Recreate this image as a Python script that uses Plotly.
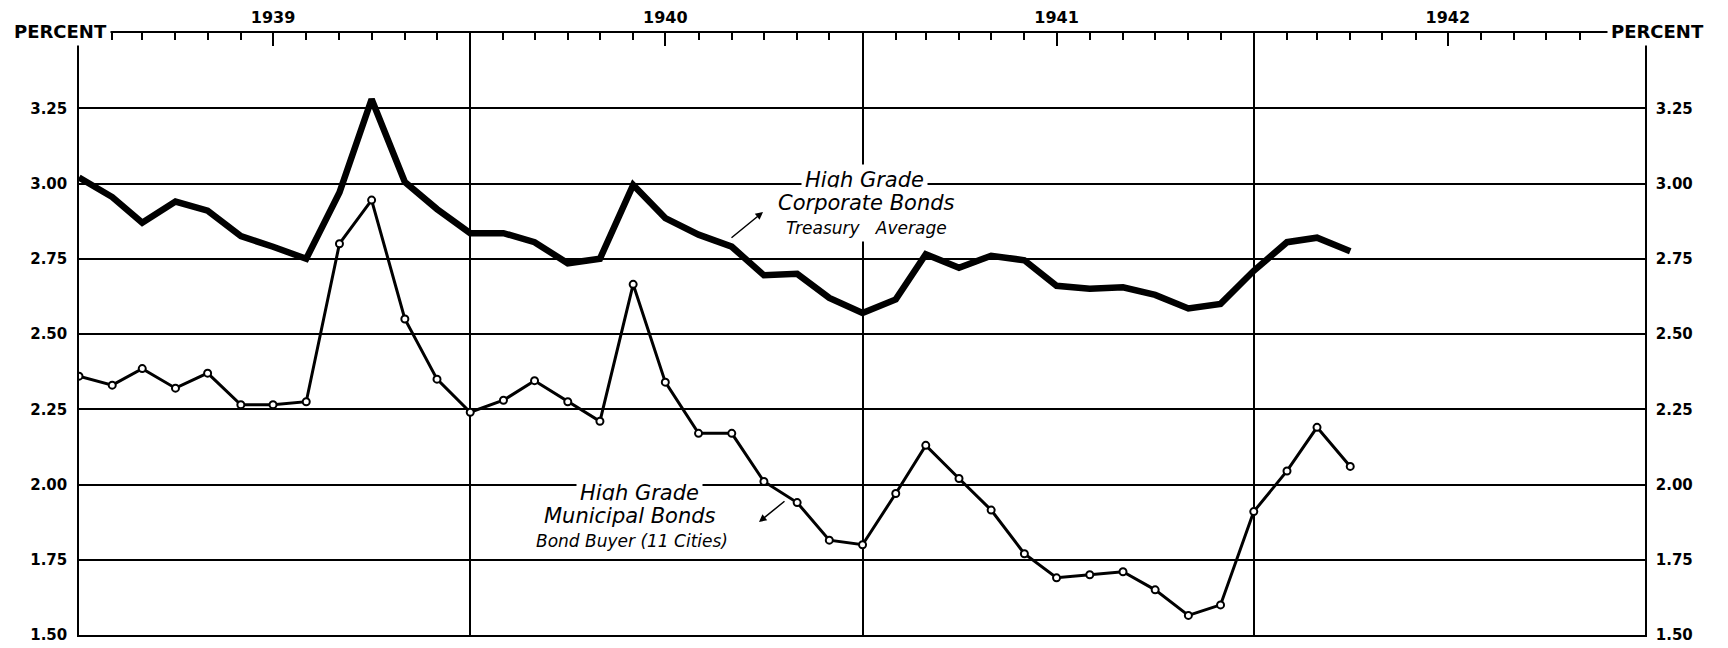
"""
High grade bond yields, 1939-1942 (corporate vs municipal)
"""
import plotly.graph_objects as go
import pandas as pd

# monthly observations, Jan 1939 - Apr 1942
months = pd.date_range("1939-01-01", periods=40, freq="MS")

corporate = [3.02, 2.955, 2.87, 2.94, 2.91, 2.825, 2.79, 2.75, 2.97, 3.28,
             3.005, 2.915, 2.835, 2.835, 2.805, 2.735, 2.75, 2.995, 2.885, 2.83,
             2.79, 2.695, 2.70, 2.62, 2.57, 2.615, 2.765, 2.72, 2.76, 2.745,
             2.66, 2.65, 2.655, 2.63, 2.585, 2.60, 2.71, 2.805, 2.82, 2.775]

municipal = [2.36, 2.33, 2.385, 2.32, 2.37, 2.265, 2.265, 2.275, 2.80, 2.945,
             2.55, 2.35, 2.24, 2.28, 2.345, 2.275, 2.21, 2.665, 2.34, 2.17,
             2.17, 2.01, 1.94, 1.815, 1.80, 1.97, 2.13, 2.02, 1.915, 1.77,
             1.69, 1.70, 1.71, 1.65, 1.565, 1.60, 1.91, 2.045, 2.19, 2.06]

years = ["1939", "1940", "1941", "1942"]
year_mid = ["1939-07-01", "1940-07-01", "1941-07-01", "1942-07-01"]
year_lines = ["1940-01-01", "1941-01-01", "1942-01-01"]
x_range = ["1939-01-01", "1943-01-01"]

y_ticks = [1.5, 1.75, 2.0, 2.25, 2.5, 2.75, 3.0, 3.25]
y_labels = ["1.50", "1.75", "2.00", "2.25", "2.50", "2.75", "3.00", "3.25"]

NUM_FONT = dict(family="DejaVu Sans", size=15, color="black", weight="bold")
LBL_FONT = dict(family="DejaVu Sans", size=21, color="black", style="italic")
SMALL_FONT = dict(family="DejaVu Sans", size=17, color="black", style="italic")

fig = go.Figure()

# Corporate bonds - heavy line
fig.add_trace(go.Scatter(
    x=months, y=corporate,
    mode="lines",
    name="High Grade Corporate Bonds",
    line=dict(color="black", width=6.5),
    xaxis="x", yaxis="y",
))

# Municipal bonds - line with open circles
fig.add_trace(go.Scatter(
    x=months, y=municipal,
    mode="lines+markers",
    name="High Grade Municipal Bonds",
    line=dict(color="black", width=3),
    marker=dict(symbol="circle", size=7, color="white",
                line=dict(color="black", width=2)),
    xaxis="x2", yaxis="y2",
))

axis_common = dict(showline=True, linecolor="black", linewidth=1.5,
                   zeroline=False, automargin=False)

# the page body adds an 8px offset, margins compensate for it
fig.update_layout(
    width=1728, height=648,
    margin=dict(l=71, r=91, t=25, b=21),
    paper_bgcolor="white",
    plot_bgcolor="white",
    showlegend=False,
    xaxis=dict(
        type="date", range=x_range,
        tickvals=year_lines, showticklabels=False, ticks="",
        showgrid=True, gridcolor="black", gridwidth=1.5,
        **axis_common,
    ),
    xaxis2=dict(
        type="date", range=x_range, overlaying="x", side="top", anchor="y2",
        tickvals=year_mid, ticktext=years,
        ticks="inside", ticklen=13, tickwidth=1.5, tickcolor="black",
        minor=dict(dtick="M1", tick0="1939-01-01", ticks="inside", ticklen=7,
                   tickwidth=1.5, tickcolor="black", showgrid=False),
        showgrid=False, ticklabelstandoff=2,
        tickfont=dict(family="DejaVu Sans", size=16, color="black", weight="bold"),
        **axis_common,
    ),
    yaxis=dict(
        range=[1.5, 3.5], tickvals=y_ticks, ticktext=y_labels,
        showgrid=True, gridcolor="black", gridwidth=1.5,
        ticks="", ticklabelstandoff=7, tickfont=NUM_FONT,
        **axis_common,
    ),
    yaxis2=dict(
        range=[1.5, 3.5], tickvals=y_ticks, ticktext=y_labels,
        overlaying="y", side="right", anchor="x2",
        showgrid=False, ticks="", ticklabelstandoff=6, tickfont=NUM_FONT,
        **axis_common,
    ),
)


def px_to_paper(px, py):
    # plot area on the page: x 79..1645, y 33..635
    return (px - 79) / 1566, (635 - py) / 602


# PERCENT headers over the top corners
for px, py in [(10, 32), (1607, 32)]:
    xp, yp = px_to_paper(px, py)
    fig.add_annotation(
        x=xp, y=yp, xref="paper", yref="paper",
        xanchor="left", yanchor="middle",
        text="PERCENT", showarrow=False,
        bgcolor="white", borderpad=3,
        font=dict(family="DejaVu Sans", size=18, color="black", weight="bold"),
    )

# Series labels
labels = [
    ("High Grade", 864, 180, LBL_FONT),
    ("Corporate Bonds", 866, 203, LBL_FONT),
    ("Treasury\u00a0\u00a0\u00a0Average", 866, 228, SMALL_FONT),
    ("High Grade", 639, 493, LBL_FONT),
    ("Municipal Bonds", 630, 516, LBL_FONT),
    ("Bond Buyer (11 Cities)", 632, 541, SMALL_FONT),
]
for text, px, py, font in labels:
    xp, yp = px_to_paper(px, py)
    fig.add_annotation(
        x=xp, y=yp, xref="paper", yref="paper",
        xanchor="center", yanchor="middle",
        text=text, showarrow=False,
        bgcolor="white", borderpad=3, font=font,
    )

# small pointers from the labels to the lines
for (hx, hy, ax, ay) in [(763, 212, -33, 27), (759, 522, 27, -22)]:
    xp, yp = px_to_paper(hx, hy)
    fig.add_annotation(
        x=xp, y=yp, xref="paper", yref="paper",
        ax=ax, ay=ay, text="", showarrow=True,
        arrowhead=2, arrowsize=1, arrowwidth=1.5, arrowcolor="black",
        standoff=0, startstandoff=0,
    )

fig.write_html("out.html")
